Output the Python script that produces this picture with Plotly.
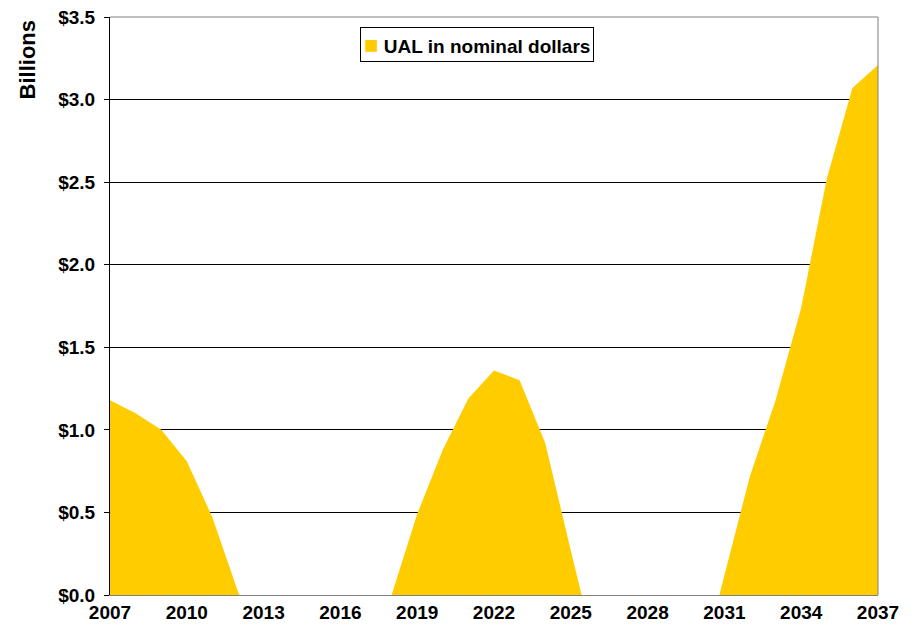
import plotly.graph_objects as go

years = list(range(2007, 2038))
ual_billions = [1.18, 1.10, 1.00, 0.81, 0.47, 0.02, -0.30, -0.45, -0.50, -0.45,
                -0.30, 0.00, 0.49, 0.88, 1.19, 1.36, 1.30, 0.92, 0.27, -0.37,
                -0.60, -0.70, -0.65, -0.50, 0.12, 0.72, 1.18, 1.74, 2.52, 3.07, 3.21]
x_tick_vals = [2007, 2010, 2013, 2016, 2019, 2022, 2025, 2028, 2031, 2034, 2037]
y_tick_vals = [0, 0.5, 1.0, 1.5, 2.0, 2.5, 3.0, 3.5]
y_tick_text = ["$0.0", "$0.5", "$1.0", "$1.5", "$2.0", "$2.5", "$3.0", "$3.5"]
series_name = "UAL in nominal dollars"

FONT = "Liberation Sans, Arial, sans-serif"
YELLOW = "#FFCC00"
FS = 19

fig = go.Figure()
fig.add_trace(go.Scatter(
    x=years, y=ual_billions, name=series_name,
    mode="none", fill="tozeroy", fillcolor=YELLOW,
    showlegend=False,
))

# page body has an 8px default margin, so the figure is sized to fit the window
fig.update_layout(
    width=907, height=617,
    margin=dict(l=102, r=37, t=9, b=30, autoexpand=False),
    paper_bgcolor="white", plot_bgcolor="white",
    font=dict(family=FONT, size=FS, color="black", weight="bold"),
    showlegend=False,
    xaxis=dict(
        range=[2007, 2037], tickmode="array", tickvals=x_tick_vals,
        ticktext=[str(v) for v in x_tick_vals],
        showgrid=False, zeroline=False, automargin=False, ticklabeloverflow="allow",
        showline=True, linecolor="#808080", linewidth=1,
        ticks="", tickfont=dict(family=FONT, size=FS, weight="bold"),
    ),
    yaxis=dict(
        range=[0, 3.5], tickmode="array", tickvals=y_tick_vals, ticktext=y_tick_text,
        showgrid=True, gridcolor="black", gridwidth=1, zeroline=False, automargin=False,
        ticklabeloverflow="allow",
        showline=True, linecolor="black", linewidth=1,
        ticks="outside", ticklen=5, tickcolor="black", ticklabelstandoff=5,
        tickfont=dict(family=FONT, size=FS, weight="bold"),
    ),
    shapes=[
        dict(type="line", xref="paper", yref="paper", x0=0, x1=1, y0=1, y1=1,
             line=dict(color="#808080", width=1)),
        dict(type="line", xref="paper", yref="paper", x0=1, x1=1, y0=0, y1=1,
             line=dict(color="#808080", width=1)),
    ],
    annotations=[
        dict(text="Billions", xref="paper", yref="paper", x=-0.1068, y=0.9265,
             textangle=-90, showarrow=False, xanchor="center", yanchor="middle",
             font=dict(family=FONT, size=22, color="black", weight="bold")),
        dict(text=f'<span style="color:{YELLOW};font-size:24px">■</span> {series_name}',
             xref="paper", yref="paper", x=0.3255, y=0.9827,
             xanchor="left", yanchor="top", showarrow=False, align="left",
             bordercolor="black", borderwidth=1, borderpad=3, bgcolor="white",
             font=dict(family=FONT, size=FS, color="black", weight="bold")),
    ],
)

fig.write_html("out.html")
